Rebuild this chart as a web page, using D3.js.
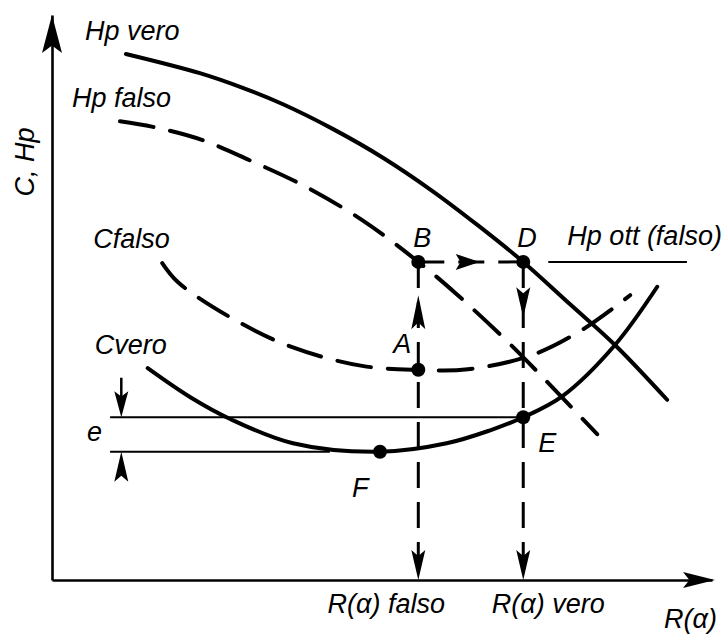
<!DOCTYPE html>
<html>
<head>
<meta charset="utf-8">
<script src="https://cdn.jsdelivr.net/npm/d3@7"></script>
<style>
  html, body { margin: 0; padding: 0; background: #fff; }
  svg { display: block; }
  text {
    font-family: "Liberation Sans", Arial, Helvetica, sans-serif;
    font-style: italic;
    font-size: 27px;
    fill: #000;
  }
</style>
</head>
<body>
<svg id="chart" width="722" height="635"></svg>
<script>
// Curves in arbitrary units: x = R(alpha), y = C / Hp (0–100)
const hpVero  = [[11.2,93.1],[22.4,89.7],[28.9,87.1],[35.0,84.2],[42.6,79.8],[50.2,74.7],[57.7,68.8],[64.5,62.8],[71.4,56.3],[78.5,48.8],[85.3,41.6],[93.2,31.9]];
const hpFalso = [[10.3,81.2],[15.3,80.2],[22.7,77.9],[30.5,74.0],[38.3,69.7],[47.0,63.7],[55.5,56.3],[61.1,50.8],[69.1,42.1],[75.9,34.0],[82.6,25.8]];
const cFalso  = [[16.7,56.1],[19.1,52.7],[27.0,46.5],[36.4,41.2],[47.0,37.9],[55.5,37.2],[63.0,37.3],[72.7,39.8],[80.5,44.4],[87.6,50.4]];
const cVero   = [[14.5,37.5],[20.9,32.4],[27.0,28.5],[36.5,24.2],[49.7,22.7],[59.8,24.2],[66.4,26.5],[71.4,28.8],[77.4,32.6],[85.3,41.6],[91.7,51.9]];

// Marked points
const pointNames  = ["A", "B", "D", "E", "F"];
const pointValues = [[55.5,37.2],[55.5,56.3],[71.4,56.3],[71.4,28.8],[49.7,22.7]];

// Key levels
const rFalso = 55.5;   // R(alpha) falso
const rVero  = 71.4;   // R(alpha) vero
const hpOtt  = 56.3;   // Hp ott (falso)

// Text
const curveLabels = ["Hp vero", "Hp falso", "Cfalso", "Cvero"];
const axisLabels  = ["C, Hp", "R(\u03b1)"];
const rLabels     = ["R(\u03b1) falso", "R(\u03b1) vero"];
const hpOttLabel  = "Hp ott (falso)";
const eLabel      = "e";

const svg = d3.select("#chart");
const x = d3.scaleLinear().domain([0, 100]).range([52, 712]);
const y = d3.scaleLinear().domain([0, 100]).range([580, 15]);

const pts = {};
pointNames.forEach((n, i) => pts[n] = { x: pointValues[i][0], y: pointValues[i][1] });

// Axes (plain arrows, no ticks)
const gx = svg.append("g").attr("transform", `translate(0,${y(0)})`)
  .call(d3.axisBottom(x).tickValues([]).tickSizeOuter(0));
const gy = svg.append("g").attr("transform", `translate(${x(0)},0)`)
  .call(d3.axisLeft(y).tickValues([]).tickSizeOuter(0));
[gx, gy].forEach(g => g.select(".domain").attr("stroke", "#000").attr("stroke-width", 2.6));

function arrowHead(tx, ty, dir, len, half) {
  let p;
  if (dir === "up")    p = [[tx, ty], [tx - half, ty + len], [tx, ty + len * 0.8], [tx + half, ty + len]];
  if (dir === "down")  p = [[tx, ty], [tx - half, ty - len], [tx, ty - len * 0.8], [tx + half, ty - len]];
  if (dir === "right") p = [[tx, ty], [tx - len, ty - half], [tx - len * 0.8, ty], [tx - len, ty + half]];
  svg.append("path")
    .attr("d", "M" + p.map(q => q.join(",")).join("L") + "Z")
    .attr("fill", "#000");
}
arrowHead(x(0), y(100), "up", 38, 10);
arrowHead(x(100) + 3, y(0), "right", 32, 8);

const line = d3.line().x(d => x(d[0])).y(d => y(d[1])).curve(d3.curveCatmullRom.alpha(0.5));

// Thin guide lines: e band and Hp ott level
const thin = (x1, y1, x2, y2, w) => svg.append("line")
  .attr("x1", x(x1)).attr("y1", y(y1)).attr("x2", x(x2)).attr("y2", y(y2))
  .attr("stroke", "#000").attr("stroke-width", w);
thin(8.8, pts.E.y, pts.E.x, pts.E.y, 2);
thin(8.8, pts.F.y, 42.1, pts.F.y, 2);
thin(75.2, hpOtt, 96.2, hpOtt, 2);

// Dashed construction lines
const dashed = (x1, y1, x2, y2) => svg.append("line")
  .attr("x1", x(x1)).attr("y1", y(y1)).attr("x2", x(x2)).attr("y2", y(y2))
  .attr("stroke", "#000").attr("stroke-width", 3)
  .attr("stroke-dasharray", "26,14");
dashed(rFalso, hpOtt, rFalso, 0);
dashed(rVero, hpOtt, rVero, 0);
dashed(rFalso, hpOtt, rVero, hpOtt);

// Arrows along the construction
arrowHead(x(64.8), y(hpOtt), "right", 24, 8);
arrowHead(x(rFalso), y(50.4), "up", 34, 7);
arrowHead(x(rVero), y(46.5), "down", 30, 7);
arrowHead(x(rFalso), y(0), "down", 30, 7);
arrowHead(x(rVero), y(0), "down", 30, 7);

// e dimension arrows
const eX = 10.5;
thin(eX, 35.8, eX, pts.E.y + 3, 2.5);
arrowHead(x(eX), y(pts.E.y), "down", 26, 7);
arrowHead(x(eX), y(pts.F.y), "up", 30, 7);

// Curves
const drawCurve = (data, dash) => svg.append("path")
  .datum(data)
  .attr("d", line)
  .attr("fill", "none")
  .attr("stroke", "#000")
  .attr("stroke-width", 4)
  .attr("stroke-linecap", "round")
  .attr("stroke-dasharray", dash);
drawCurve(hpVero, null);
drawCurve(cVero, null);
drawCurve(hpFalso, "34,17");
drawCurve(cFalso, "34,17");

// Points
svg.selectAll("circle.pt").data(pointNames).join("circle")
  .attr("class", "pt")
  .attr("cx", n => x(pts[n].x)).attr("cy", n => y(pts[n].y))
  .attr("r", 7).attr("fill", "#000");

// Labels
const label = (t, px, py, anchor) => svg.append("text")
  .attr("x", px).attr("y", py).attr("text-anchor", anchor || "start").text(t);

const starts = [hpVero[0], hpFalso[0], cFalso[0], cVero[0]];
const startOffsets = [[-41, -14], [-48, -14], [-69, -15], [-53, -14]];
curveLabels.forEach((t, i) =>
  label(t, x(starts[i][0]) + startOffsets[i][0], y(starts[i][1]) + startOffsets[i][1]));

const ptOffsets = { A: [-25, -17], B: [-5, -15], D: [-6, -15], E: [15, 35], F: [-28, 45] };
pointNames.forEach(n => label(n, x(pts[n].x) + ptOffsets[n][0], y(pts[n].y) + ptOffsets[n][1]));

label(hpOttLabel, x(96.2) + 35, y(hpOtt) - 17, "end");
label(eLabel, 87, 441);
label(rLabels[0], x(rFalso) - 32, 613, "middle");
label(rLabels[1], x(rVero) + 25, 613, "middle");
label(axisLabels[1], 717, 628, "end");

svg.append("text")
  .attr("transform", "translate(34,162) rotate(-90)")
  .attr("text-anchor", "middle")
  .text(axisLabels[0]);
</script>
</body>
</html>
